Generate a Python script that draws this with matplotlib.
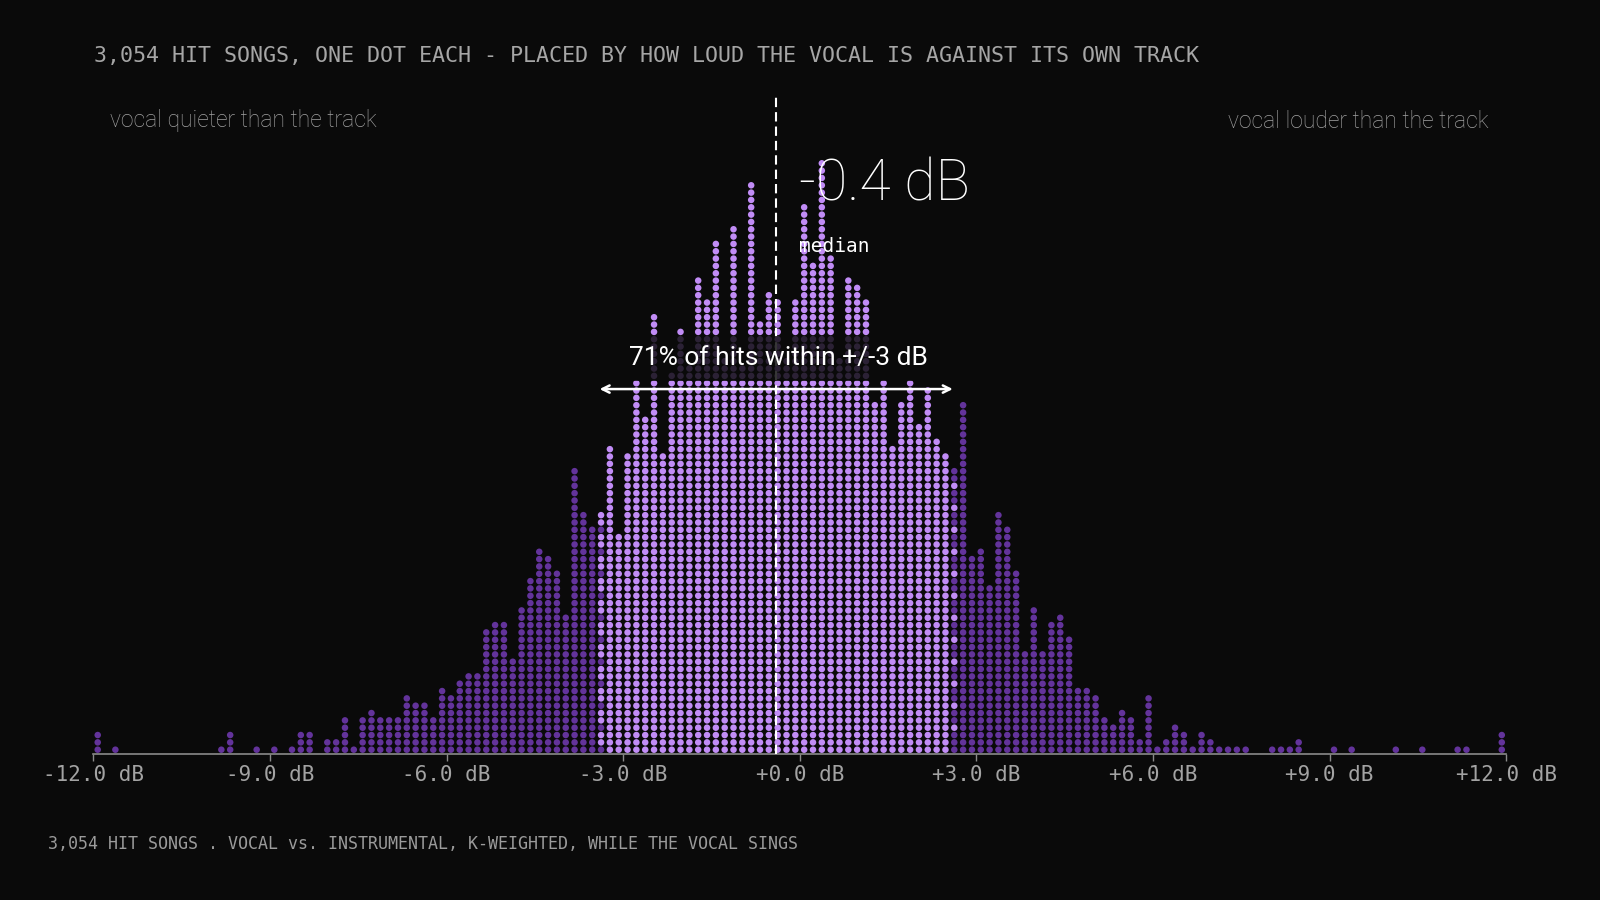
import numpy as np
import matplotlib
matplotlib.use("Agg")
import matplotlib.pyplot as plt

# ---------------- data ----------------
bin_width = 0.15          # dB per dot column
x_min, x_max = -12.0, 12.0
median_db = -0.4
band_halfwidth = 3.0      # +/- 3 dB around the median

# dot counts per 0.15 dB column, left to right
left_tail = [3, 0, 1, 0, 0, 0, 0, 0, 0, 0, 0, 0, 0, 0, 1, 3, 0, 0, 1, 0,
             1, 0, 1, 3, 3, 0, 2, 2]
left_shoulder = [5, 1, 5, 6, 5, 5, 5, 8, 7, 7, 5, 9, 8, 10, 11, 11, 17, 18, 18, 13,
                 20, 24, 28, 27, 25, 19, 39, 33, 31]
core = [33, 42, 30, 41, 51, 46, 60, 41, 52, 58,
        53, 65, 62, 70, 54, 72, 53, 78, 59, 63,
        62, 54, 62, 75, 67, 81, 68, 54, 65, 64,
        62, 48, 51, 42, 48, 51, 45, 50, 43, 41,
        39]
right_shoulder = [48, 27, 28, 23, 33, 31, 25, 14, 20, 14,
                  18, 19, 16, 9, 9, 8, 5, 4, 6, 5,
                  2, 8, 1, 2, 4, 3, 1]
right_tail = [3, 2, 1, 1, 1, 1, 0, 0, 1, 1, 1, 2, 0, 0, 0, 1, 0, 1, 0, 0,
              0, 0, 1, 0, 0, 1, 0, 0, 0, 1, 1, 0, 0, 0, 3]

tick_values = [-12, -9, -6, -3, 0, 3, 6, 9, 12]
tick_labels = [f"{v:+.1f} dB" for v in tick_values]

title = "3,054 HIT SONGS, ONE DOT EACH - PLACED BY HOW LOUD THE VOCAL IS AGAINST ITS OWN TRACK"
footer = "3,054 HIT SONGS . VOCAL vs. INSTRUMENTAL, K-WEIGHTED, WHILE THE VOCAL SINGS"
left_note = "vocal quieter than the track"
right_note = "vocal louder than the track"
band_label = "71% of hits within +/-3 dB"
median_label = "-0.4 dB"

# ---------------- style ----------------
BG = "#0a0a0a"
LIGHT = "#c18cf6"
DARK = "#63339b"
MONO = ["DejaVu Sans Mono"]
SANS = ["Roboto", "Inter", "DejaVu Sans"]

W, H = 1600, 900
fig = plt.figure(figsize=(16, 9), dpi=100, facecolor=BG)

x0_px, x1_px = 93.3, 1506.2
axis_px, top_px = 753.7, 94.0
row_px = 7.33
ax = fig.add_axes([x0_px / W, 1 - axis_px / H, (x1_px - x0_px) / W, (axis_px - top_px) / H])
ax.set_facecolor("none")
ax.set_xlim(x_min, x_max)
y_bottom = -4.0 / row_px
ax.set_ylim(y_bottom, y_bottom + (axis_px - top_px) / row_px)

# ---------------- dots ----------------
counts = np.array(left_tail + left_shoulder + core + right_shoulder + right_tail)
edges = x_min + bin_width * np.arange(len(counts) + 1)
lo, hi = median_db - band_halfwidth, median_db + band_halfwidth

xs, ys, cs = [], [], []
for k, n in enumerate(counts):
    e0, e1 = edges[k], edges[k + 1]
    c = 0.5 * (e0 + e1)
    overlap = max(0.0, min(e1, hi) - max(e0, lo))
    frac = round(overlap / bin_width, 3)
    for r in range(int(n)):
        light = np.floor((r + 1) * frac) > np.floor(r * frac)
        xs.append(c)
        ys.append(r)
        cs.append(LIGHT if light else DARK)

ax.scatter(xs, ys, s=22, c=cs, linewidths=0, zorder=2)

# median line
ax.axvline(median_db, ymin=0, ymax=1, color="white", lw=1.5,
           ls=(0, (4.5, 2.4)), zorder=3)

# band label with translucent box
ax.text(median_db + 0.03, 53.4, band_label, ha="center", va="center",
        fontsize=19, color="white", family=SANS, fontweight="normal", zorder=4,
        bbox=dict(boxstyle="square,pad=0.4", fc=BG, ec="none", alpha=0.82))
ax.annotate("", xy=(lo, 49.2), xytext=(hi, 49.2),
            arrowprops=dict(arrowstyle="<->", color="white", lw=1.8,
                            mutation_scale=13, shrinkA=0, shrinkB=0), zorder=5)

# median annotation
ax.text(median_db + 0.38, 77.1, median_label, ha="left", va="center",
        fontsize=41, color="white", family=SANS, fontweight="light", zorder=5)
ax.text(median_db + 0.38, 68.6, "median", ha="left", va="center",
        fontsize=14, color="white", family=MONO, zorder=5)

# axis styling
for s in ["left", "right", "top"]:
    ax.spines[s].set_visible(False)
ax.spines["bottom"].set_color("#8a8a8a")
ax.spines["bottom"].set_linewidth(1.2)
ax.set_yticks([])
ax.set_xticks(tick_values)
ax.set_xticklabels(tick_labels, family=MONO)
ax.tick_params(axis="x", colors="#8a8a8a", labelcolor="#a3a3a3", length=5,
               width=1.0, pad=3, labelsize=15)

# figure texts
fig.text(94 / W, 1 - 56 / H, title, family=MONO, fontsize=15.55, color="#a6a6a6",
         ha="left", va="center")
fig.text(110 / W, 1 - 121 / H, left_note, family=SANS, fontweight="light",
         fontsize=16.5, color="#a2a2a2", ha="left", va="center")
fig.text(1489 / W, 1 - 121 / H, right_note, family=SANS, fontweight="light",
         fontsize=16.5, color="#a2a2a2", ha="right", va="center")
fig.text(48 / W, 1 - 844 / H, footer, family=MONO, fontsize=12, color="#9b9b9b",
         ha="left", va="center")

fig.savefig("out.png", dpi=100, facecolor=BG)
